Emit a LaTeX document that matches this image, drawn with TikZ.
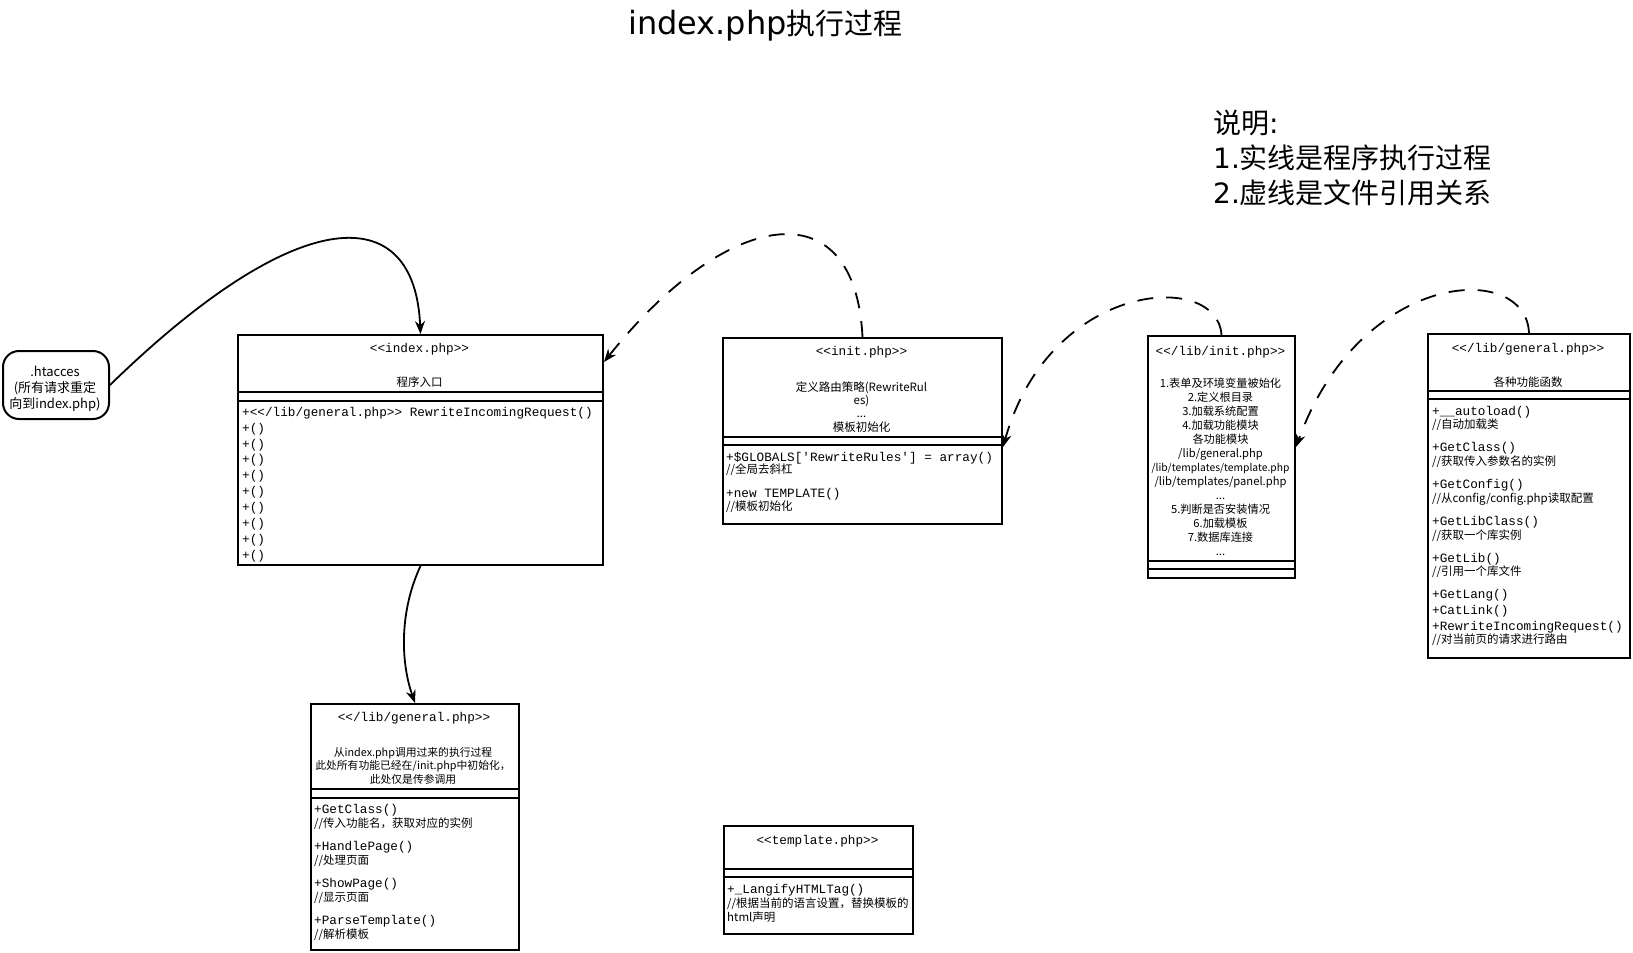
\documentclass[tikz,border=0pt]{standalone}
\usepackage{fontspec}
\setmainfont{Noto Sans CJK SC}
\newfontfamily\cjk{Noto Sans CJK SC}
\newfontfamily\mono{Liberation Mono}
\newfontfamily\lat{DejaVu Sans}
\usetikzlibrary{arrows.meta}
\newcommand{\fs}{\rule{0pt}{12pt}}
\newcommand{\cm}[1]{{\cjk\fontsize{11.5}{14}\selectfont #1}}
\lineskiplimit=-100pt
\begin{document}
\begin{tikzpicture}[x=1pt,y=-1pt,
  umlbox/.style={draw, line width=2pt, rectangle, inner sep=0pt, anchor=north west},
  sepline/.style={line width=2pt},
  monotxt/.style={font=\mono\fontsize{12.7}{14}\selectfont, inner sep=0pt},
  cjktxt/.style={font=\cjk\fontsize{11.5}{14}\selectfont, inner sep=0pt},
  flowline/.style={line width=1.8pt, -{Stealth[length=13pt,width=10pt]}},
  refline/.style={flowline, dash pattern=on 16pt off 13pt},
]
\fill[white] (0,0) rectangle (1633,953);
\useasboundingbox (0,0) rectangle (1633,953);

% title and legend
\node[anchor=base west, inner sep=0pt] (title) at (628,34)
  {{\lat\fontsize{32}{36}\selectfont index.php}{\cjk\fontsize{29}{36}\selectfont 执行过程}};
\node[anchor=north west, inner sep=0pt, align=left, font=\cjk\fontsize{28}{35}\selectfont] (legend) at (1213,103)
  {\rule{0pt}{30pt}说明{\lat :}\\{\lat 1.}实线是程序执行过程\\{\lat 2.}虚线是文件引用关系};

% .htaccess
\node[draw, line width=2pt, rounded corners=16pt, minimum width=106pt, minimum height=68pt,
  inner sep=0pt, anchor=north west] (hta) at (2,350) {};
\node[inner sep=0pt, anchor=north, align=center, font=\cjk\fontsize{13}{16}\selectfont] (hta-t) at (55,363)
  {\rule{0pt}{13pt}.htacces\\(所有请求重定\\向到index.php)};

% index.php
\node[umlbox, minimum width=365pt, minimum height=230pt] (idx) at (237,334) {};
\draw[sepline] ([yshift=-58pt]idx.north west) -- ([yshift=-58pt]idx.north east);
\draw[sepline] ([yshift=-67pt]idx.north west) -- ([yshift=-67pt]idx.north east);
\node[monotxt, anchor=base] (idx-t) at (419.5,352) {<<index.php>>};
\node[cjktxt, anchor=base] (idx-d) at (419.5,386) {程序入口};
\node[monotxt, anchor=north west, align=left, font=\mono\fontsize{12.7}{15.9}\selectfont] (idx-o) at (242,404)
  {\fs{}+<</lib/general.php>> RewriteIncomingRequest()\\+()\\+()\\+()\\+()\\+()\\+()\\+()\\+()\\+()};

% init.php
\node[umlbox, minimum width=279pt, minimum height=186pt] (init) at (722,337) {};
\draw[sepline] ([yshift=-100pt]init.north west) -- ([yshift=-100pt]init.north east);
\draw[sepline] ([yshift=-108pt]init.north west) -- ([yshift=-108pt]init.north east);
\node[monotxt, anchor=base] (init-t) at (861.5,355) {<<init.php>>};
\node[cjktxt, anchor=north, align=center, font=\cjk\fontsize{11.5}{13.3}\selectfont] (init-d) at (861.5,379)
  {\fs{}定义路由策略(RewriteRul\\es)\\...\\模板初始化};
\node[monotxt, anchor=north west, align=left, font=\mono\fontsize{12.7}{12.7}\selectfont] (init-o) at (726,449)
  {\fs{}+\$GLOBALS['RewriteRules'] = array()\\\cm{//全局去斜杠}\\[11.3pt]+new TEMPLATE()\\\cm{//模板初始化}};

% /lib/init.php
\node[umlbox, minimum width=147pt, minimum height=242pt] (linit) at (1147,335) {};
\draw[sepline] ([yshift=-226pt]linit.north west) -- ([yshift=-226pt]linit.north east);
\draw[sepline] ([yshift=-234pt]linit.north west) -- ([yshift=-234pt]linit.north east);
\node[monotxt, anchor=base] (linit-t) at (1220.5,355) {<</lib/init.php>>};
\node[cjktxt, anchor=north, align=center, font=\cjk\fontsize{11.2}{14}\selectfont] (linit-d) at (1220.5,375)
  {\fs{}1.表单及环境变量被始化\\2.定义根目录\\3.加载系统配置\\4.加载功能模块\\各功能模块\\/lib/general.php\\{\fontsize{10.3}{14}\selectfont /lib/templates/template.php}\\/lib/templates/panel.php\\...\\5.判断是否安装情况\\6.加载模板\\7.数据库连接\\...};

% /lib/general.php (right)
\node[umlbox, minimum width=202pt, minimum height=324pt] (gen) at (1427,333) {};
\draw[sepline] ([yshift=-58pt]gen.north west) -- ([yshift=-58pt]gen.north east);
\draw[sepline] ([yshift=-66pt]gen.north west) -- ([yshift=-66pt]gen.north east);
\node[monotxt, anchor=base] (gen-t) at (1528,352) {<</lib/general.php>>};
\node[cjktxt, anchor=base] (gen-d) at (1528,386) {各种功能函数};
\node[monotxt, anchor=north west, align=left, font=\mono\fontsize{12.7}{13.7}\selectfont] (gen-o) at (1432,403)
  {\fs{}+\_\_autoload()\\\cm{//自动加载类}\\[9.3pt]+GetClass()\\\cm{//获取传入参数名的实例}\\[9.3pt]+GetConfig()\\\cm{//从config/config.php读取配置}\\[9.3pt]+GetLibClass()\\\cm{//获取一个库实例}\\[9.3pt]+GetLib()\\\cm{//引用一个库文件}\\[9.3pt]+GetLang()\\[2pt]+CatLink()\\[2pt]+RewriteIncomingRequest()\\\cm{//对当前页的请求进行路由}};

% /lib/general.php (bottom)
\node[umlbox, minimum width=208pt, minimum height=246pt] (gen2) at (310,703) {};
\draw[sepline] ([yshift=-86pt]gen2.north west) -- ([yshift=-86pt]gen2.north east);
\draw[sepline] ([yshift=-95pt]gen2.north west) -- ([yshift=-95pt]gen2.north east);
\node[monotxt, anchor=base] (gen2-t) at (414,721) {<</lib/general.php>>};
\node[cjktxt, anchor=north, align=center, font=\cjk\fontsize{10.8}{13.5}\selectfont] (gen2-d) at (413,744)
  {\fs{}从index.php调用过来的执行过程\\此处所有功能已经在/init.php中初始化，\\此处仅是传参调用};
\node[monotxt, anchor=north west, align=left] (gen2-o) at (314,801)
  {\fs{}+GetClass()\\\cm{//传入功能名，获取对应的实例}\\[9pt]+HandlePage()\\\cm{//处理页面}\\[9pt]+ShowPage()\\\cm{//显示页面}\\[9pt]+ParseTemplate()\\\cm{//解析模板}};

% template.php
\node[umlbox, minimum width=189pt, minimum height=108pt] (tmpl) at (723,825) {};
\draw[sepline] ([yshift=-44pt]tmpl.north west) -- ([yshift=-44pt]tmpl.north east);
\draw[sepline] ([yshift=-52pt]tmpl.north west) -- ([yshift=-52pt]tmpl.north east);
\node[monotxt, anchor=base] (tmpl-t) at (817.5,844) {<<template.php>>};
\node[monotxt, anchor=north west, align=left] (tmpl-o) at (727,881)
  {\fs{}+\_LangifyHTMLTag()\\\cm{//根据当前的语言设置，替换模板的}\\\cm{html声明}};

% connectors
\draw[flowline] (hta.east) .. controls (300,200) and (415,200) .. (idx.north);
\draw[flowline] (idx.south) .. controls (400,610) and (400,660) .. (gen2.north);
\draw[refline] (init.north) .. controls (855,185) and (725,210) .. ([yshift=-28pt]idx.north east);
\draw[refline] (linit.north) .. controls (1218,270) and (1050,280) .. ([yshift=-110pt]init.north east);
\draw[refline] (gen.north) .. controls (1526,260) and (1360,270) .. ([yshift=-112pt]linit.north east);
\end{tikzpicture}
\end{document}
